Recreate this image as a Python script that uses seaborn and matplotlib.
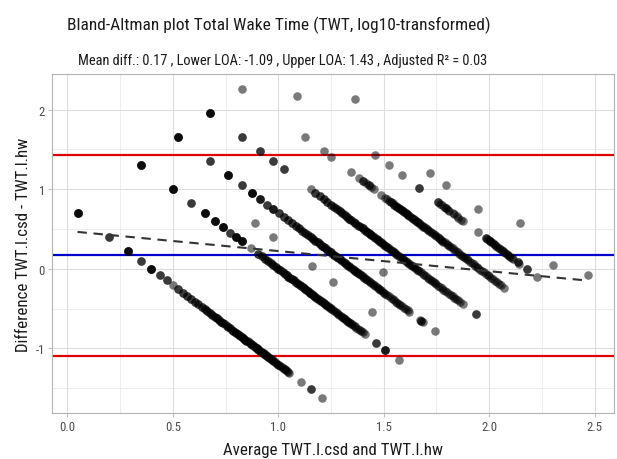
import numpy as np
import pandas as pd
import matplotlib
matplotlib.use("Agg")
import matplotlib.pyplot as plt
import seaborn as sns

# ---------------- data (minutes) ----------------
# csd category value (minutes) for every diagonal band
csd_cat = [2.5, 10, 15, 22.5, 30, 45, 90, 150, 210, 270]

# hw minutes observed within each csd band (repeats = overlapping observations)
hw_2_5 = [0.5, 0.5, 0.5, 0.5, 1, 1, 1.5, 1.5, 1.5, 1.5, 2, 2, 2.5, 2.5, 2.5, 2.5,
          3, 3, 3.5, 3.5, 4, 4.5, 4.5, 5, 5, 5.5, 5.5, 6, 6, 6.5, 6.5, 7, 7, 7.5,
          7.5, 8, 8, 8.5, 8.5, 9, 9, 9.5, 9.5, 10, 10, 10.5, 10.5, 11, 11, 11.5,
          11.5, 12, 12, 12.5, 13, 13, 13.5, 14, 14, 14.5, 15, 15, 15.5, 16, 16,
          16.5, 17, 17, 17.5, 18, 18, 18.5, 19, 19, 19.5, 20, 20, 20.5, 21, 21.5,
          22, 22, 22.5, 23, 23.5, 24, 24.5, 25, 25, 25.5, 26, 26.5, 27, 27.5, 28,
          28.5, 29, 29.5, 30, 30.5, 31, 31.5, 32, 33, 33.5, 34, 35, 35.5, 36, 37,
          38, 39, 40, 41, 42, 43, 44, 45, 46, 47, 48, 50, 51, 66, 82, 82, 104]
hw_10 = [0.5, 0.5, 0.5, 0.5, 1, 1, 1, 1, 1.5, 1.5, 2, 2, 2, 2, 2.5, 2.5, 2.5, 2.5,
         3, 3, 3, 3, 3.5, 3.5, 4, 4, 4, 4, 4.5, 4.5, 4.5, 4.5, 5.5, 6.5, 6.5,
         7, 7, 7.5, 7.5, 8, 8, 8.5, 8.5, 9, 9, 9.5, 9.5, 10, 10, 10.5, 10.5, 11,
         11, 11.5, 11.5, 12, 12, 12.5, 12.5, 13, 13, 13.5, 13.5, 14, 14, 14.5, 15,
         15, 15.5, 16, 16, 16.5, 17, 17, 17.5, 18, 18, 18.5, 19, 19, 19.5, 20, 20,
         20.5, 21, 21.5, 22, 22, 22.5, 23, 23.5, 24, 24.5, 25, 25.5, 26, 26.5, 27,
         27.5, 28, 28.5, 29, 29.5, 30, 31, 31.5, 32, 33, 34, 35, 36, 37, 38, 39, 40,
         41, 42, 43, 44, 45, 46, 47, 48, 49, 50, 52, 53, 55, 57, 59, 61, 63, 66,
         85, 85, 104, 104, 104, 139]
hw_15 = [4, 6, 14, 22, 52]
hw_22_5 = [0.5, 0.5, 0.5, 0.5, 1, 1, 1.5, 1.5, 1.5, 1.5, 2, 2, 2.5, 2.5, 2.5, 2.5,
           3, 3, 3, 3.5, 3.5, 4, 4, 4, 4.5, 4.5, 5, 5, 5.5, 5.5, 6, 6, 6.5, 6.5,
           7, 7, 7.5, 7.5, 8, 8, 8.5, 8.5, 9, 9, 9.5, 9.5, 10, 10, 10.5, 10.5, 11,
           11, 11.5, 11.5, 12, 12, 12.5, 13, 13, 13.5, 14, 14, 14.5, 15, 15, 15.5,
           16, 16, 16.5, 17, 17, 17.5, 18, 18.5, 19, 19, 19.5, 20, 20.5, 21, 21.5,
           22, 22.5, 23, 23.5, 24, 24.5, 25, 25.5, 26, 26.5, 27, 28, 28.5, 29, 30,
           30.5, 31, 32, 33, 34, 35, 36, 37, 38, 39, 40, 41, 42, 44, 45, 46, 48,
           50, 52, 54, 56, 58, 60, 62, 64, 66, 69, 72, 75, 78, 98, 101, 101, 106, 135]
hw_30 = [33]
hw_45 = [0.5, 0.5, 0.5, 0.5, 1, 1, 1.5, 1.5, 2, 2, 2.5, 2.5, 4.5,
         5, 5, 5.5, 5.5, 6, 6, 6.5, 6.5, 7, 7, 7.5, 7.5, 8, 8, 8.5, 8.5, 9, 9,
         9.5, 9.5, 10, 10, 10.5, 10.5, 11, 11, 11.5, 12, 12, 12.5, 13, 13, 13.5,
         14, 14, 14.5, 15, 15, 15.5, 16, 16, 16.5, 17, 17, 17.5, 18, 18.5, 19, 19,
         19.5, 20, 20.5, 21, 21.5, 22, 22.5, 23, 23.5, 24, 24.5, 25, 26, 26.5, 27,
         28, 28.5, 29, 30, 31, 32, 33, 34, 35, 36, 37, 38, 39, 40, 41, 42, 43, 44,
         46, 47, 48, 50, 52, 54, 56, 58, 60, 62, 64, 66, 68, 70, 73, 76, 79, 82,
         85, 88, 92, 96, 100, 104, 108, 112, 118, 125, 167, 167]
hw_90 = [0.5, 2, 3, 3.5, 5.5, 6.5, 7, 7, 7.5, 8, 8, 8.5, 9, 10.5, 11.5, 12, 12.5,
         13, 13, 13.5, 14, 14, 14.5, 15, 15, 15.5, 16, 16, 16.5, 17, 17, 17.5, 18,
         18, 18.5, 19, 19, 19.5, 20, 20.5, 21, 21.5, 22, 22.5, 23, 23.5, 24, 24.5,
         25, 26, 26.5, 27, 28, 28.5, 29, 30, 31, 32, 33, 34, 35, 36, 37, 38, 39,
         40, 41, 42, 44, 45, 46, 48, 50, 52, 54, 56, 58, 60, 62, 64, 66, 68, 70,
         73, 76, 79, 82, 85, 88, 92, 96, 100, 104, 108, 112, 117, 122, 127, 132,
         138, 145, 155]
hw_150 = [1, 5.5, 7.5, 10, 14.5, 14.5, 22, 22, 23, 24, 25, 26, 26, 27, 28, 30, 31,
          33, 34, 36, 38, 52, 62, 62, 64, 66, 68, 68, 70, 72, 74, 76, 78, 80, 82,
          85, 88, 90, 92, 95, 98, 100, 103, 106, 109, 112, 124, 124, 129, 151, 151,
          188]
hw_210 = [13, 18.5, 37, 190]
hw_270 = [2, 72, 324]
hw_by_band = [hw_2_5, hw_10, hw_15, hw_22_5, hw_30, hw_45, hw_90, hw_150, hw_210, hw_270]

# summary statistics shown in the subtitle
mean_diff = 0.17
lower_loa = -1.09
upper_loa = 1.43
adj_r2 = 0.03
# fitted linear trend (difference ~ average)
reg_intercept = 0.476
reg_slope = -0.253

x_ticks = [0.0, 0.5, 1.0, 1.5, 2.0, 2.5]
x_tick_labels = ["0.0", "0.5", "1.0", "1.5", "2.0", "2.5"]
y_ticks = [-1, 0, 1, 2]
y_tick_labels = ["-1", "0", "1", "2"]

title = "Bland-Altman plot Total Wake Time (TWT, log10-transformed)"
x_label = "Average TWT.l.csd and TWT.l.hw"
y_label = "Difference TWT.l.csd - TWT.l.hw"

# ---------------- build table ----------------
rows = []
for c, hws in zip(csd_cat, hw_by_band):
    for h in hws:
        a = np.log10(c)
        b = np.log10(h)
        rows.append({"avg": (a + b) / 2, "diff": a - b})
df = pd.DataFrame(rows)

# ---------------- style ----------------
sns.set_theme(style="white")
plt.rcParams["font.family"] = ["Roboto Condensed", "Liberation Sans", "DejaVu Sans"]

W, H = 617, 460
fig = plt.figure(figsize=(W / 100, H / 100), dpi=100)
L, R, T, B = 52, 614, 75, 414
ax = fig.add_axes([L / W, 1 - B / H, (R - L) / W, (B - T) / H])

# reference lines (under the points)
ax.axhline(upper_loa, color="#e00000", lw=1.6, zorder=2)
ax.axhline(lower_loa, color="#e00000", lw=1.6, zorder=2)
ax.axhline(mean_diff, color="#0000cc", lw=1.6, zorder=2)

sns.scatterplot(data=df, x="avg", y="diff", color="black", alpha=0.52, s=38,
                linewidth=0, ax=ax, zorder=3, legend=False)

xr = np.array([df["avg"].min(), df["avg"].max()])
ax.plot(xr, reg_intercept + reg_slope * xr, color="#333333", lw=1.5,
        dashes=(4.5, 3.2), zorder=4)

# ggplot-like 5% expansion
xmin, xmax = df["avg"].min(), df["avg"].max()
ymin, ymax = df["diff"].min(), df["diff"].max()
ax.set_xlim(xmin - 0.05 * (xmax - xmin), xmax + 0.05 * (xmax - xmin))
ax.set_ylim(ymin - 0.05 * (ymax - ymin), ymax + 0.05 * (ymax - ymin))

ax.set_xticks(x_ticks)
ax.set_xticklabels(x_tick_labels)
ax.set_yticks(y_ticks)
ax.set_yticklabels(y_tick_labels)
ax.set_xticks([0.25, 0.75, 1.25, 1.75, 2.25], minor=True)
ax.set_yticks([-1.5, -0.5, 0.5, 1.5], minor=True)
ax.grid(which="major", color="#dedede", lw=0.8, zorder=0)
ax.grid(which="minor", color="#e6e6e6", lw=0.5, zorder=0)
ax.set_axisbelow(True)
ax.tick_params(which="major", length=3, width=0.6, color="#b3b3b3",
               labelsize=9.2, labelcolor="#4d4d4d", pad=2,
               bottom=True, left=True)
ax.tick_params(which="minor", length=0)
for s in ax.spines.values():
    s.set_color("#b3b3b3")
    s.set_linewidth(0.8)

ax.set_xlabel("")
ax.set_ylabel("")
fig.text(333 / W, 1 - 455 / H, x_label, ha="center", va="baseline",
         fontsize=12.2, color="#1a1a1a")
fig.text(24 / W, 1 - 244.5 / H, y_label, ha="center", va="center",
         rotation=90, fontsize=12.2, color="#1a1a1a")

fig.text(279 / W, 1 - 30 / H, title, ha="center", va="baseline",
         fontsize=12.5, color="#1a1a1a")
subtitle = (f"Mean diff.: {mean_diff:.2f} , Lower LOA: {lower_loa:.2f} , "
            f"Upper LOA: {upper_loa:.2f} , Adjusted R\u00b2 = {adj_r2:.2f}")
fig.text(283 / W, 1 - 65 / H, subtitle, ha="center", va="baseline",
         fontsize=10.4, color="#1a1a1a")

fig.savefig("out.png", dpi=100)
